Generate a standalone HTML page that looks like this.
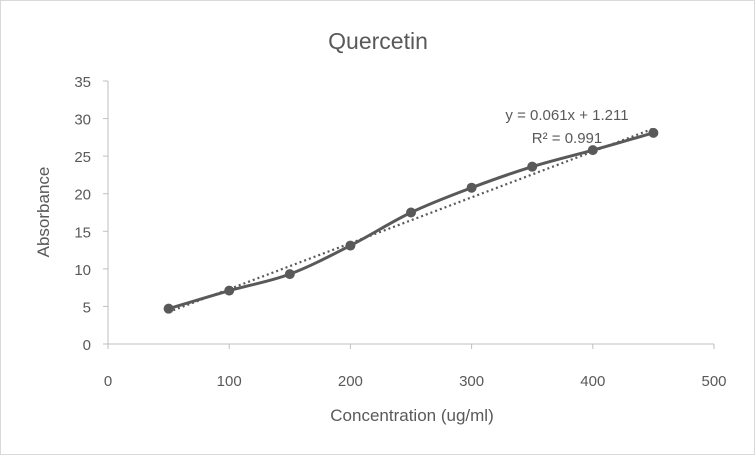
<!DOCTYPE html>
<html><head><style>
body{margin:0;background:#fff;}
svg text{font-family:"Liberation Sans",sans-serif;fill:#595959;}
</style></head><body>
<svg width="756" height="456" viewBox="0 0 756 456">
<rect x="0.5" y="0.5" width="754" height="454" fill="#fff" stroke="#d9d9d9"/>
<text x="378" y="49" font-size="23" text-anchor="middle">Quercetin</text>
<g id="axes" stroke="#bfbfbf" stroke-width="1">
<line x1="108" y1="81" x2="108" y2="344"/>
<line x1="108" y1="344" x2="714" y2="344"/>
</g>
<g id="ticks" stroke="#bfbfbf"></g>
<g id="lbl" font-size="15"></g>
<text x="412" y="421" font-size="17" text-anchor="middle">Concentration (ug/ml)</text>
<text transform="translate(49,212) rotate(-90)" font-size="17" text-anchor="middle">Absorbance</text>
<line x1="168.6" y1="312" x2="653.4" y2="128.6" stroke="#595959" stroke-width="2.2" stroke-dasharray="2,3"/>
<path id="curve" fill="none" stroke="#595959" stroke-width="3"/>
<g id="pts" fill="#595959"></g>
<text x="567" y="120" font-size="15" text-anchor="middle">y = 0.061x + 1.211</text>
<text x="567" y="143" font-size="15" text-anchor="middle">R² = 0.991</text>
</svg>
<script>
var X=function(x){return 108+x*1.212},Y=function(v){return 344-v*7.514};
var ns="http://www.w3.org/2000/svg";
var t=document.getElementById('ticks'),l=document.getElementById('lbl');
function el(p,n,a,txt){var e=document.createElementNS(ns,n);for(var k in a)e.setAttribute(k,a[k]);if(txt!==undefined)e.textContent=txt;p.appendChild(e);}
for(var i=0;i<=5;i++){var x=X(i*100);el(t,'line',{x1:x,y1:344,x2:x,y2:349});el(l,'text',{x:x,y:386,'text-anchor':'middle'},String(i*100));}
for(var j=0;j<=7;j++){var y=Y(j*5);el(t,'line',{x1:103,y1:y,x2:108,y2:y});el(l,'text',{x:91,y:y+6,'text-anchor':'end'},String(j*5));}
var d=[[50,4.7],[100,7.1],[150,9.3],[200,13.1],[250,17.5],[300,20.8],[350,23.6],[400,25.8],[450,28.1]];
var p=d.map(function(a){return[X(a[0]),Y(a[1])]});
var s="M"+p[0][0]+","+p[0][1];
for(var i=0;i<p.length-1;i++){var p0=p[i-1]||p[i],p1=p[i],p2=p[i+1],p3=p[i+2]||p2;
s+=" C"+(p1[0]+(p2[0]-p0[0])/6)+","+(p1[1]+(p2[1]-p0[1])/6)+" "+(p2[0]-(p3[0]-p1[0])/6)+","+(p2[1]-(p3[1]-p1[1])/6)+" "+p2[0]+","+p2[1];}
document.getElementById('curve').setAttribute('d',s);
var g=document.getElementById('pts');p.forEach(function(q){el(g,'circle',{cx:q[0],cy:q[1],r:5});});
</script>
</body></html>
